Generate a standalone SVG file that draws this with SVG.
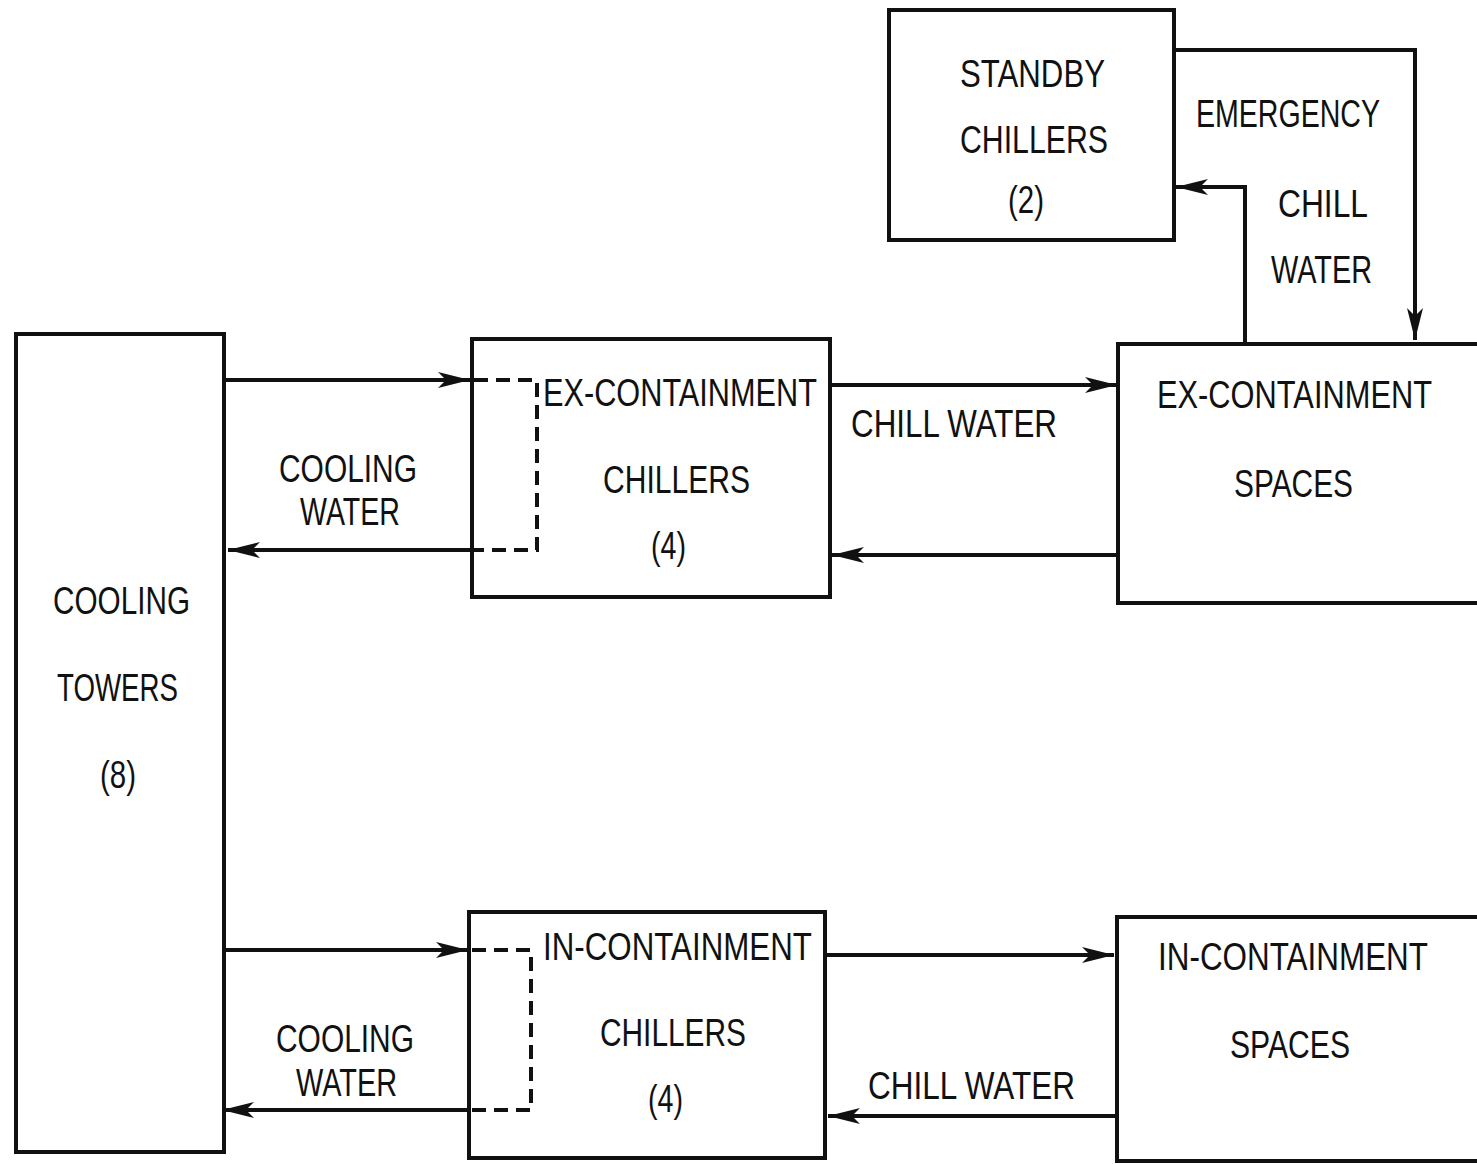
<svg xmlns="http://www.w3.org/2000/svg" width="1477" height="1164" viewBox="0 0 1477 1164">
<defs>
<marker id="ah" markerUnits="userSpaceOnUse" markerWidth="34" markerHeight="18" refX="32" refY="9" orient="auto">
<path d="M0,1 L32,9 L0,17 L8,9 z" fill="#111"/>
</marker>
<style>
.box{fill:#fff;stroke:#111;stroke-width:4}
.ln{fill:none;stroke:#111;stroke-width:4}
.dash{fill:none;stroke:#111;stroke-width:4;stroke-dasharray:14,8}
text{font-family:"Liberation Sans","DejaVu Sans",sans-serif;font-size:39px;fill:#111}
</style>
</defs>
<rect width="1477" height="1164" fill="#fff"/>
<g id="standby">
<rect class="box" x="889" y="10" width="285" height="230"/>
<text x="960" y="87" textLength="145" lengthAdjust="spacingAndGlyphs">STANDBY</text>
<text x="960" y="153" textLength="148" lengthAdjust="spacingAndGlyphs">CHILLERS</text>
<text x="1008" y="213" textLength="36" lengthAdjust="spacingAndGlyphs">(2)</text>
</g>
<g id="emergency-label">
<text x="1196" y="127" textLength="184" lengthAdjust="spacingAndGlyphs">EMERGENCY</text>
<text x="1278" y="217" textLength="90" lengthAdjust="spacingAndGlyphs">CHILL</text>
<text x="1271" y="283" textLength="101" lengthAdjust="spacingAndGlyphs">WATER</text>
</g>
<g id="cooling-towers">
<rect class="box" x="16" y="334" width="208" height="818"/>
<text x="53" y="614" textLength="137" lengthAdjust="spacingAndGlyphs">COOLING</text>
<text x="57" y="701" textLength="121" lengthAdjust="spacingAndGlyphs">TOWERS</text>
<text x="100" y="788" textLength="36" lengthAdjust="spacingAndGlyphs">(8)</text>
</g>
<g id="ex-chillers">
<rect class="box" x="472" y="339" width="358" height="258"/>
<text x="543" y="406" textLength="274" lengthAdjust="spacingAndGlyphs">EX-CONTAINMENT</text>
<text x="603" y="493" textLength="147" lengthAdjust="spacingAndGlyphs">CHILLERS</text>
<text x="651" y="559" textLength="35" lengthAdjust="spacingAndGlyphs">(4)</text>
</g>
<g id="ex-spaces">
<path class="box" d="M1477,344 H1118 V603 H1477"/>
<text x="1157" y="408" textLength="275" lengthAdjust="spacingAndGlyphs">EX-CONTAINMENT</text>
<text x="1234" y="497" textLength="119" lengthAdjust="spacingAndGlyphs">SPACES</text>
</g>
<g id="in-chillers">
<rect class="box" x="469" y="912" width="356" height="246"/>
<text x="543" y="960" textLength="269" lengthAdjust="spacingAndGlyphs">IN-CONTAINMENT</text>
<text x="600" y="1046" textLength="146" lengthAdjust="spacingAndGlyphs">CHILLERS</text>
<text x="648" y="1112" textLength="35" lengthAdjust="spacingAndGlyphs">(4)</text>
</g>
<g id="in-spaces">
<path class="box" d="M1477,917 H1117 V1161 H1477"/>
<text x="1158" y="970" textLength="270" lengthAdjust="spacingAndGlyphs">IN-CONTAINMENT</text>
<text x="1230" y="1058" textLength="120" lengthAdjust="spacingAndGlyphs">SPACES</text>
</g>
<g id="labels">
<text x="279" y="482" textLength="138" lengthAdjust="spacingAndGlyphs">COOLING</text>
<text x="300" y="525" textLength="100" lengthAdjust="spacingAndGlyphs">WATER</text>
<text x="851" y="437" textLength="206" lengthAdjust="spacingAndGlyphs">CHILL WATER</text>
<text x="276" y="1052" textLength="138" lengthAdjust="spacingAndGlyphs">COOLING</text>
<text x="296" y="1096" textLength="101" lengthAdjust="spacingAndGlyphs">WATER</text>
<text x="868" y="1099" textLength="207" lengthAdjust="spacingAndGlyphs">CHILL WATER</text>
</g>
<g id="connectors">
<path class="ln" d="M1174,50 H1415 V340" marker-end="url(#ah)"/>
<path class="ln" d="M1245,344 V187 H1176" marker-end="url(#ah)"/>
<path class="ln" d="M226,380 H470" marker-end="url(#ah)"/>
<path class="ln" d="M472,550 H228" marker-end="url(#ah)"/>
<path class="dash" d="M474,380 H537 V550 H474"/>
<path class="ln" d="M830,385 H1117" marker-end="url(#ah)"/>
<path class="ln" d="M1117,555 H832" marker-end="url(#ah)"/>
<path class="ln" d="M222,950 H468" marker-end="url(#ah)"/>
<path class="ln" d="M470,1110 H222" marker-end="url(#ah)"/>
<path class="dash" d="M472,950 H531 V1110 H472"/>
<path class="ln" d="M826,955 H1114" marker-end="url(#ah)"/>
<path class="ln" d="M1116,1116 H828" marker-end="url(#ah)"/>
</g>
</svg>
